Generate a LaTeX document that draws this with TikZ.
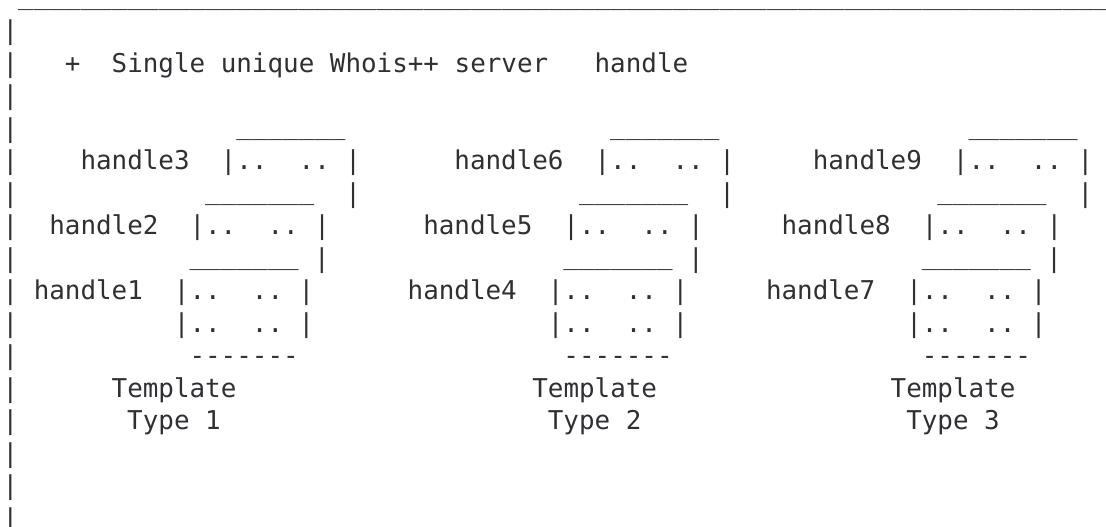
\documentclass[tikz,border=0pt]{standalone}
\usepackage{fontspec}
\newfontfamily\mono{DejaVu Sans Mono}[Ligatures=TeXOff]
\definecolor{ink}{HTML}{2F3033}

% a run of n underscore characters
\ExplSyntaxOn
\cs_new:Npn \unders #1 { \prg_replicate:nn {#1} { \textunderscore } }
\ExplSyntaxOff

% character grid: column width and line pitch of the monospaced listing
\newcommand\colw{15.58}
\newcommand\rowh{32.5}

\tikzset{
  txt/.style={anchor=base west, inner sep=0pt, outer sep=0pt, text=ink,
              font=\mono\fontsize{25.9}{32.5}\selectfont},
  ulrun/.style={txt, yshift=3pt},
}

% \cell{name}{row}{column}{text}
\newcommand\cell[5][txt]{%
  \node[#1] (#2) at ({2.6+#4*\colw},{-(7.3+#3*\rowh)}) {#5};}

\begin{document}
\begin{tikzpicture}[x=1pt,y=1pt]
\useasboundingbox (0,0) rectangle (1106,-527);
\clip (0,0) rectangle (1106,-527);

% top rule
\cell[ulrun]{toprule}{0}{1}{\unders{72}}

% left margin bars
\foreach \r in {1,...,16} {
  \cell{bar\r}{\r}{0}{|}
}

% heading
\cell{plus}{2}{4}{+}
\cell{title}{2}{7}{Single~unique~Whois++~server}
\cell{hword}{2}{38}{handle}

% top lids of the rear records
\cell[ulrun]{lidA3}{4}{15}{\unders{7}}
\cell[ulrun]{lidB3}{4}{39}{\unders{7}}
\cell[ulrun]{lidC3}{4}{62}{\unders{7}}

% rear records
\cell{h3}{5}{5}{handle3}
\cell{recA3}{5}{14}{|..~~..~|}
\cell{h6}{5}{29}{handle6}
\cell{recB3}{5}{38}{|..~~..~|}
\cell{h9}{5}{52}{handle9}
\cell{recC3}{5}{61}{|..~~..~|}

% lids of the middle records
\cell[ulrun]{lidA2}{6}{13}{\unders{7}}
\cell{sideA3}{6}{22}{|}
\cell[ulrun]{lidB2}{6}{37}{\unders{7}}
\cell{sideB3}{6}{46}{|}
\cell[ulrun]{lidC2}{6}{60}{\unders{7}}
\cell{sideC3}{6}{69}{|}

% middle records
\cell{h2}{7}{3}{handle2}
\cell{recA2}{7}{12}{|..~~..~|}
\cell{h5}{7}{27}{handle5}
\cell{recB2}{7}{36}{|..~~..~|}
\cell{h8}{7}{50}{handle8}
\cell{recC2}{7}{59}{|..~~..~|}

% lids of the front records
\cell[ulrun]{lidA1}{8}{12}{\unders{7}}
\cell{sideA2}{8}{20}{|}
\cell[ulrun]{lidB1}{8}{36}{\unders{7}}
\cell{sideB2}{8}{44}{|}
\cell[ulrun]{lidC1}{8}{59}{\unders{7}}
\cell{sideC2}{8}{67}{|}

% front records
\cell{h1}{9}{2}{handle1}
\cell{recA1}{9}{11}{|..~~..~|}
\cell{h4}{9}{26}{handle4}
\cell{recB1}{9}{35}{|..~~..~|}
\cell{h7}{9}{49}{handle7}
\cell{recC1}{9}{58}{|..~~..~|}

\cell{recA0}{10}{11}{|..~~..~|}
\cell{recB0}{10}{35}{|..~~..~|}
\cell{recC0}{10}{58}{|..~~..~|}

% bottoms
\cell{baseA}{11}{12}{-------}
\cell{baseB}{11}{36}{-------}
\cell{baseC}{11}{59}{-------}

% captions
\cell{tplA}{12}{7}{Template}
\cell{tplB}{12}{34}{Template}
\cell{tplC}{12}{57}{Template}
\cell{typA}{13}{8}{Type~1}
\cell{typB}{13}{35}{Type~2}
\cell{typC}{13}{58}{Type~3}
\end{tikzpicture}
\end{document}
